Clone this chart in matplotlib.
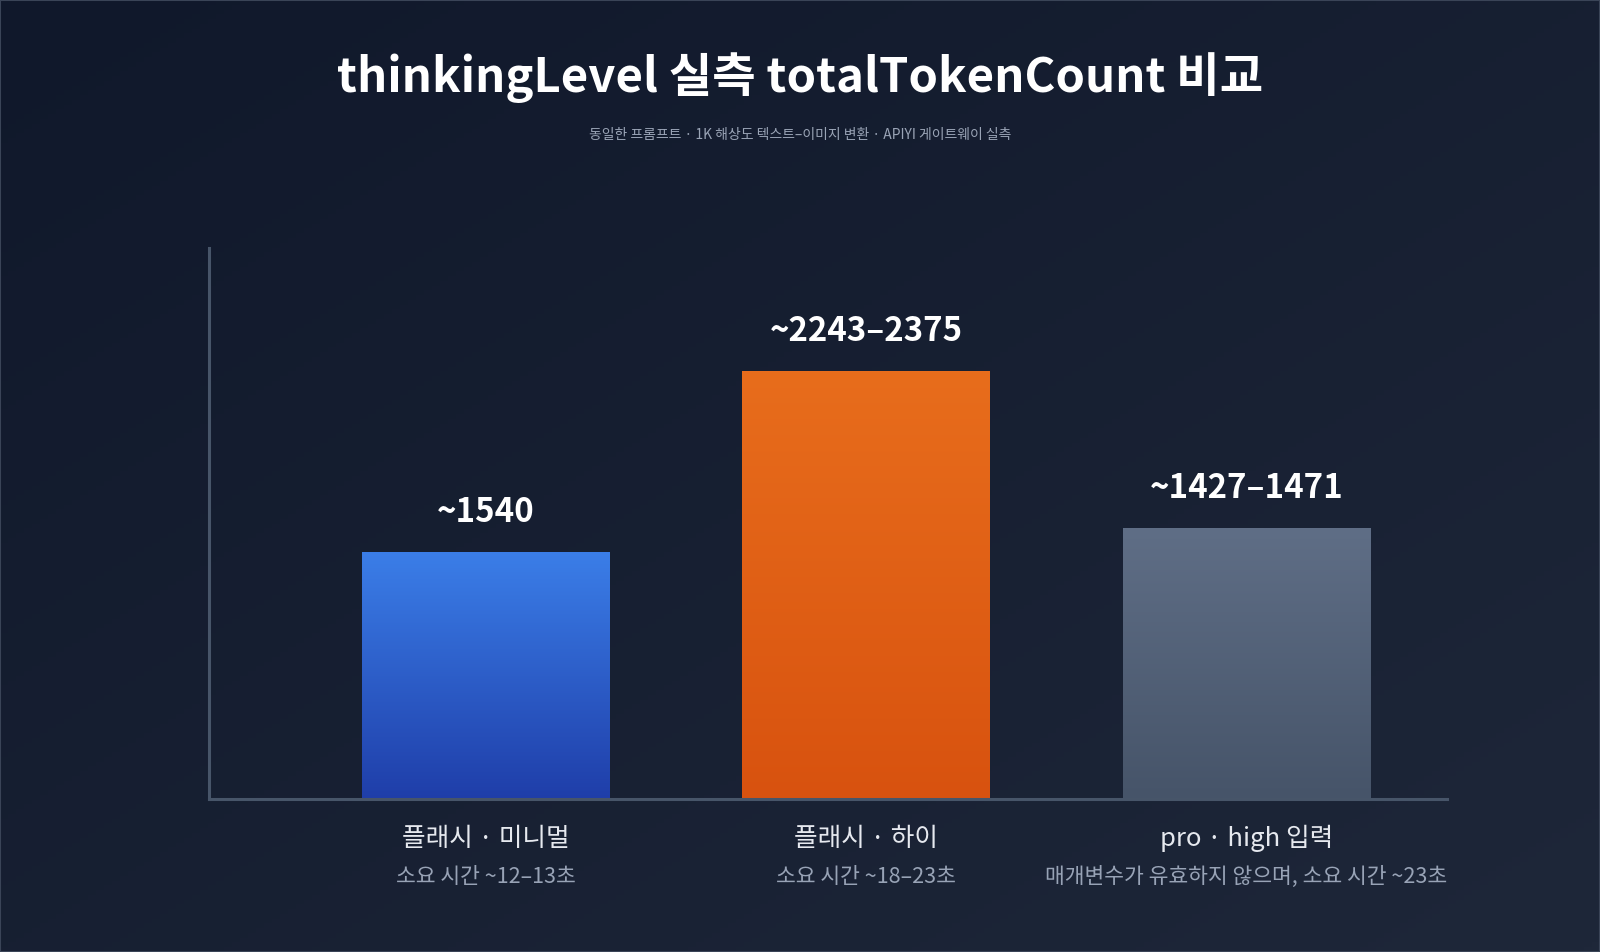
import numpy as np
import matplotlib.pyplot as plt
from matplotlib.colors import LinearSegmentedColormap
from matplotlib.patches import Rectangle

plt.rcParams['font.family'] = ['Noto Sans CJK KR', 'DejaVu Sans']

# Data
categories = ['플래시 · 미니멀', '플래시 · 하이', 'pro · high 입력']
sublabels = ['소요 시간 ~12–13초', '소요 시간 ~18–23초', '매개변수가 유효하지 않으며, 소요 시간 ~23초']
value_labels = ['~1540', '~2243–2375', '~1427–1471']
bar_heights = [1540, 2670, 1690]  # drawn heights as they appear on the (hidden) y scale
top_colors = ['#3b7ee8', '#e86d1c', '#5f6e86']
bottom_colors = ['#1f3ea9', '#d8520f', '#465469']

title = 'thinkingLevel 실측 totalTokenCount 비교'
subtitle = '동일한 프롬프트 · 1K 해상도 텍스트–이미지 변환 · APIYI 게이트웨이 실측'

fig = plt.figure(figsize=(16, 9.52), dpi=100)

# Background diagonal gradient
bg = fig.add_axes([0, 0, 1, 1], zorder=-10)
gx, gy = np.meshgrid(np.linspace(0, 1, 200), np.linspace(0, 1, 200))
grad = (gx + gy) / 2
bg_cmap = LinearSegmentedColormap.from_list('bg', ['#10182b', '#1e2739'])
bg.imshow(grad, cmap=bg_cmap, aspect='auto', extent=[0, 1, 0, 1], origin='upper')
bg.axis('off')
fig.patches.append(Rectangle((0, 0), 1, 1, transform=fig.transFigure, fill=False,
                             edgecolor='#3a4457', lw=1.5))

ax = fig.add_axes([0.1306, 0.1607, 0.7738, 0.5788])
ax.patch.set_alpha(0)

x = np.arange(len(categories))
bars = ax.bar(x, bar_heights, width=0.65, color='none', edgecolor='none')

# Gradient fill inside each bar
for b, c_top, c_bot in zip(bars, top_colors, bottom_colors):
    cmap = LinearSegmentedColormap.from_list('g', [c_bot, c_top])
    x0, w, h = b.get_x(), b.get_width(), b.get_height()
    im = ax.imshow(np.linspace(0, 1, 256).reshape(-1, 1), cmap=cmap, aspect='auto',
                   extent=[x0, x0 + w, 0, h], origin='lower', zorder=2)
    im.set_clip_path(b)

ax.set_xlim(-0.727, 2.527)
ax.set_ylim(0, 3440)

for xi, h, lab in zip(x, bar_heights, value_labels):
    ax.annotate(lab, (xi, h), xytext=(0, 29), textcoords='offset points',
                ha='center', va='center', fontsize=23.8, fontweight='bold', color='white')

for xi, cat, sub in zip(x, categories, sublabels):
    ax.text(xi, -0.072, cat, transform=ax.get_xaxis_transform(), ha='center', va='center',
            fontsize=18.5, color='#e6e9ef')
    ax.text(xi, -0.142, sub, transform=ax.get_xaxis_transform(), ha='center', va='center',
            fontsize=15.5, color='#98a3b6')

for side in ['top', 'right']:
    ax.spines[side].set_visible(False)
for side in ['left', 'bottom']:
    ax.spines[side].set_color('#475569')
    ax.spines[side].set_linewidth(2.2)
ax.set_xticks([])
ax.set_yticks([])

fig.text(0.5, 0.918, title, ha='center', va='center', fontsize=34, fontweight='bold', color='white')
fig.text(0.5, 0.858, subtitle, ha='center', va='center', fontsize=10, color='#9aa4b6')

fig.savefig('out.png', dpi=100)
